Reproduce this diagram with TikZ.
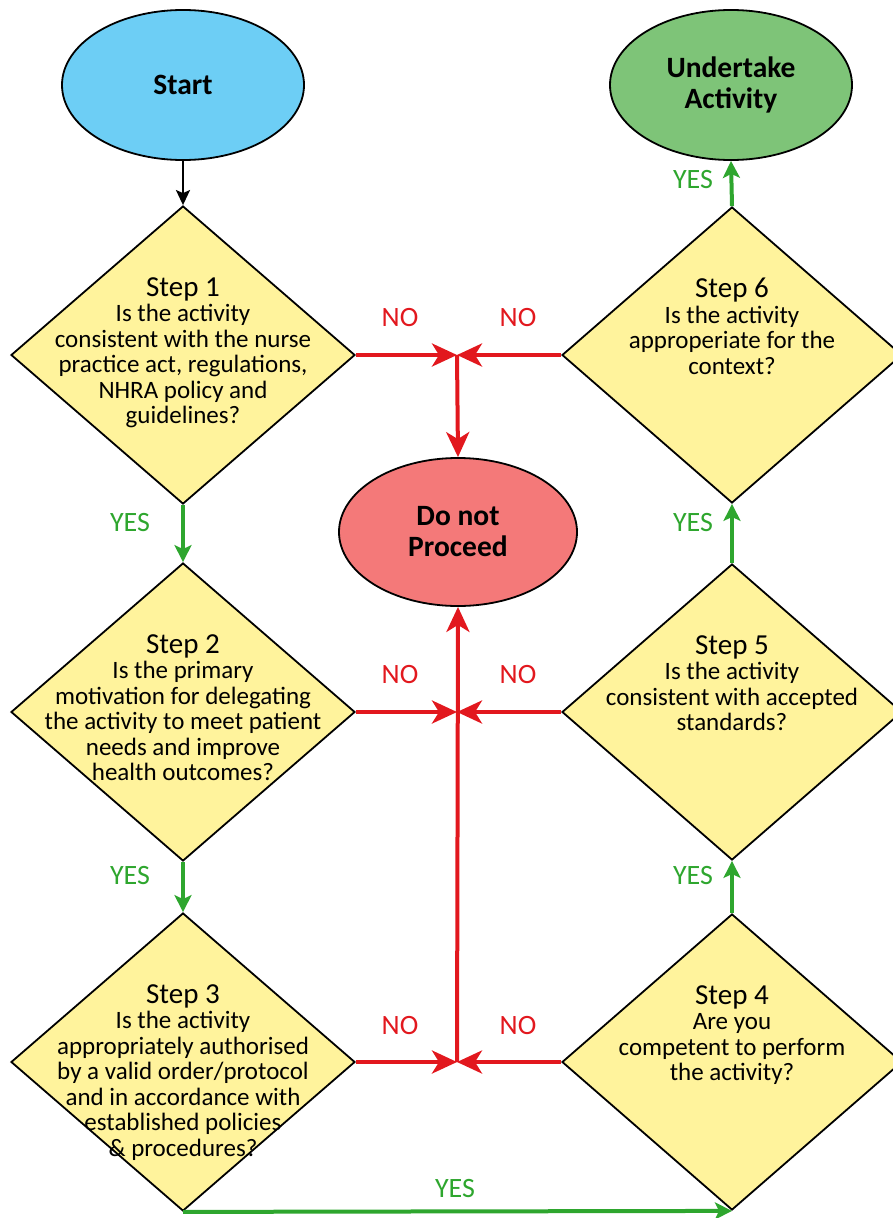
\documentclass[tikz,border=0pt]{standalone}
\usepackage{fontspec}
\setmainfont{Carlito}
\usetikzlibrary{shapes.geometric,arrows.meta,positioning}
\definecolor{stepyellow}{RGB}{255,243,156}
\definecolor{startblue}{RGB}{109,206,245}
\definecolor{donegreen}{RGB}{126,196,120}
\definecolor{stopred}{RGB}{244,121,121}
\definecolor{nored}{RGB}{226,24,30}
\definecolor{yesgreen}{RGB}{46,166,46}
\newcommand\stephead[1]{{\fontsize{29}{30}\selectfont Step #1}}
\tikzset{
  stepbox/.style={diamond, draw, line width=1.8pt, fill=stepyellow, minimum width=344pt, minimum height=298pt, inner sep=0pt},
  steptext/.style={align=center, inner sep=0pt, font=\fontsize{25}{25.5}\selectfont},
  endbox/.style={ellipse, draw, line width=1.8pt, minimum width=242pt, minimum height=150pt, align=center, font=\bfseries\fontsize{29.5}{31}\selectfont},
  nolabel/.style={text=nored, font=\fontsize{28}{28}\selectfont},
  yeslabel/.style={text=yesgreen, font=\fontsize{28}{28}\selectfont},
  noline/.style={draw=nored, line width=4pt, -{Stealth[length=25pt,width=23pt,inset=7pt]}},
  yesline/.style={draw=yesgreen, line width=4pt, -{Stealth[length=17pt,width=17pt,inset=4pt]}},
  startline/.style={draw=black, line width=2.2pt, -{Stealth[length=15pt,width=14pt,inset=3pt]}}
}
\begin{document}
\begin{tikzpicture}[x=1pt,y=-1pt]
	\useasboundingbox (0,0) rectangle (892,1218);
	
	\node[endbox, fill=startblue] (start) at (183,85) {Start};
	\node[endbox, fill=donegreen] (done) at (731,85) {Undertake\\Activity};
	\node[endbox, fill=stopred, minimum width=238pt, minimum height=148pt] (stop) at (458,532) {Do not\\Proceed};
	
	\node[stepbox] (s1) at (183,355) {};
	\node[stepbox] (s2) at (183,712) {};
	\node[stepbox] (s3) at (183,1062) {};
	\node[stepbox, minimum width=340pt, minimum height=296pt] (s4) at (732,1062) {};
	\node[stepbox, minimum width=340pt, minimum height=296pt] (s5) at (732,712) {};
	\node[stepbox, minimum width=340pt, minimum height=296pt] (s6) at (732,355) {};
	
	\node[steptext, below=72pt of s1.north] (t1) {\stephead{1}\\Is the activity\\consistent with the nurse\\practice act, regulations,\\NHRA policy and\\guidelines?};
	\node[steptext, below=72pt of s2.north] (t2) {\stephead{2}\\Is the primary\\motivation for delegating\\the activity to meet patient\\needs and improve\\health outcomes?};
	\node[steptext, below=72pt of s3.north] (t3) {\stephead{3}\\Is the activity\\appropriately authorised\\by a valid order/protocol\\and in accordance with\\established policies\\\& procedures?};
	\node[steptext, below=72pt of s4.north] (t4) {\stephead{4}\\Are you\\competent to perform\\the activity?};
	\node[steptext, below=72pt of s5.north] (t5) {\stephead{5}\\Is the activity\\consistent with accepted\\standards?};
	\node[steptext, below=72pt of s6.north] (t6) {\stephead{6}\\Is the activity\\approperiate for the\\context?};
	
	\coordinate (j1) at (457,355);
	\coordinate (j2) at (457,712);
	\coordinate (j3) at (457,1062);
	
	\node[nolabel] (no1) at (400,318) {NO};
	\node[nolabel] (no2) at (518,318) {NO};
	\node[nolabel] (no3) at (400,675) {NO};
	\node[nolabel] (no4) at (518,675) {NO};
	\node[nolabel] (no5) at (400,1025) {NO};
	\node[nolabel] (no6) at (518,1025) {NO};
	
	\node[yeslabel] (yes1) at (130,523) {YES};
	\node[yeslabel] (yes2) at (130,875) {YES};
	\node[yeslabel] (yes3) at (455,1188) {YES};
	\node[yeslabel] (yes4) at (693,875) {YES};
	\node[yeslabel] (yes5) at (693,523) {YES};
	\node[yeslabel] (yes6) at (693,180) {YES};
	
	\draw[startline] (start) -- (s1);
	\foreach \from/\to in {s1.south/s2.north,s2.south/s3.north,s3.south/s4.south,s4.north/s5.south,s5.north/s6.south,s6.north/done.south}
	\draw[yesline] (\from) -- (\to);
	\foreach \from/\to in {s1.east/j1,s6.west/j1,s2.east/j2,s5.west/j2,s3.east/j3,s4.west/j3,j1/stop.north,j3/stop.south}
	\draw[noline] (\from) -- (\to);
\end{tikzpicture}
\end{document}
